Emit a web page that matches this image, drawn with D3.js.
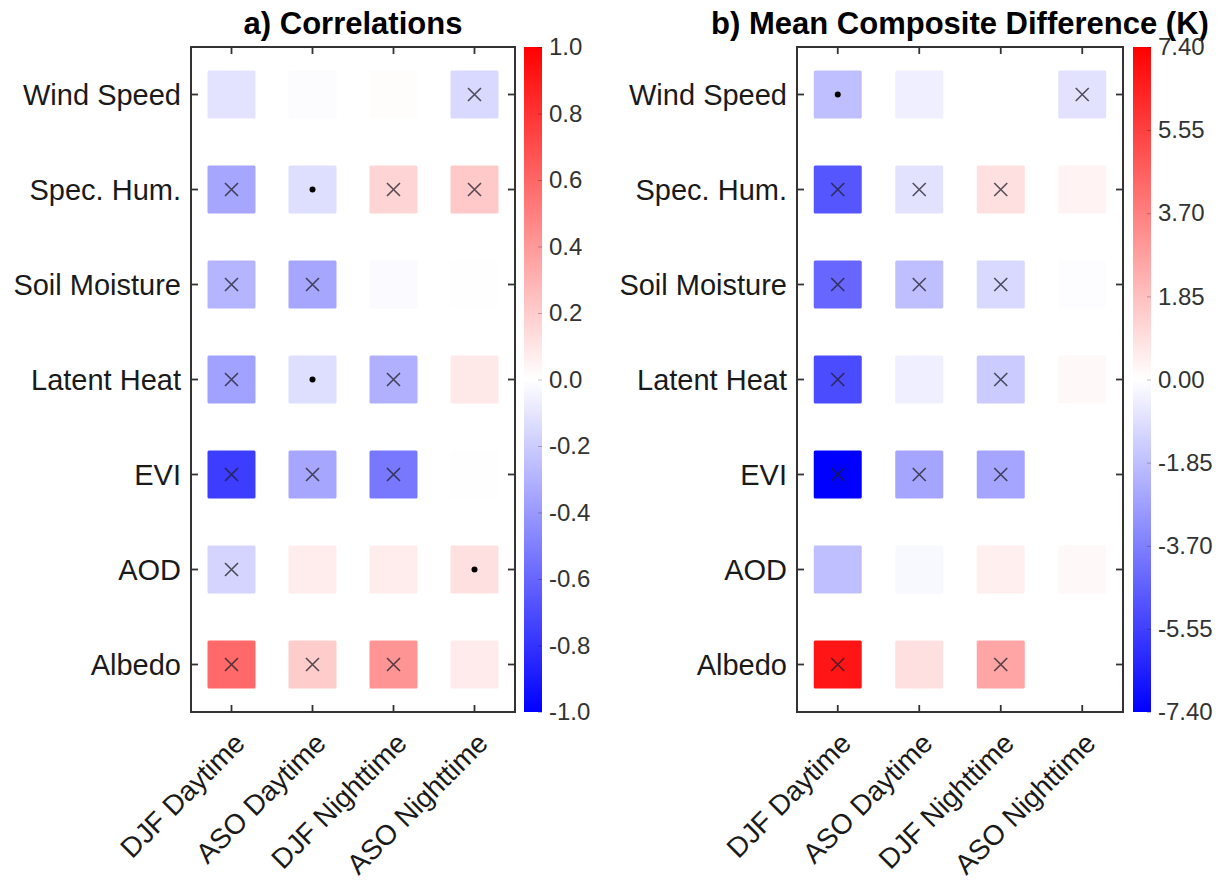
<!DOCTYPE html>
<html>
<head>
<meta charset="utf-8">
<script src="https://cdn.jsdelivr.net/npm/d3@7"></script>
<style>
body { margin:0; background:#fff; }
text { font-family:"Liberation Sans", Arial, Helvetica, sans-serif; fill:#1a1a1a; }
</style>
</head>
<body>
<svg width="1231" height="884"></svg>
<script>
var rows = ["Wind Speed","Spec. Hum.","Soil Moisture","Latent Heat","EVI","AOD","Albedo"];
var cols = ["DJF Daytime","ASO Daytime","DJF Nighttime","ASO Nighttime"];

// correlations, one row per variable, columns as in cols
var corrValues = [
	[-0.11, -0.01,  0.01, -0.15],
	[-0.35, -0.13,  0.17,  0.21],
	[-0.29, -0.35, -0.02, -0.005],
	[-0.37, -0.13, -0.31,  0.09],
	[-0.76, -0.35, -0.53,  0.005],
	[-0.17,  0.07,  0.07,  0.12],
	[ 0.59,  0.20,  0.42,  0.08]
];
// x = cross, d = dot, "" = nothing
var corrMarks = [
	["", "", "", "x"],
	["x","d","x","x"],
	["x","x","", ""],
	["x","d","x",""],
	["x","x","x",""],
	["x","", "", "d"],
	["x","x","x",""]
];

// mean composite difference (K)
var diffValues = [
	[-1.85, -0.45,  0.0,  -0.85],
	[-4.9,  -0.85,  0.9,   0.35],
	[-4.4,  -1.85, -1.1,  -0.05],
	[-5.2,  -0.45, -1.5,   0.2],
	[-7.4,  -2.6,  -2.6,   0.0],
	[-1.85, -0.2,   0.45,  0.2],
	[ 6.8,   0.9,   2.6,   0.0]
];
var diffMarks = [
	["d","", "", "x"],
	["x","x","x",""],
	["x","x","x",""],
	["x","", "x",""],
	["x","x","x",""],
	["", "", "", ""],
	["x","", "x",""]
];

var corrTicks = [1.0,0.8,0.6,0.4,0.2,0.0,-0.2,-0.4,-0.6,-0.8,-1.0];
var diffTicks = [7.40,5.55,3.70,1.85,0.00,-1.85,-3.70,-5.55,-7.40];

var svg = d3.select("svg");

var defs = svg.append("defs");
var grad = defs.append("linearGradient")
	.attr("id","bwr")
	.attr("x1",0).attr("y1",1).attr("x2",0).attr("y2",0);
grad.append("stop").attr("offset","0%").attr("stop-color","#0000ff");
grad.append("stop").attr("offset","50%").attr("stop-color","#ffffff");
grad.append("stop").attr("offset","100%").attr("stop-color","#ff0000");

function panel(opt){
	var w = opt.w, h = 665;
	var g = svg.append("g").attr("transform", translate(opt.x, 47));

	var x = d3.scaleBand().domain(cols).range([0, w]);
	var y = d3.scaleBand().domain(rows).range([0, h]);
	var color = d3.scaleLinear()
		.domain([-opt.max, 0, opt.max])
		.range(["#0000ff","#ffffff","#ff0000"]);

	var cells = [];
	rows.forEach(function(r, i){
		cols.forEach(function(c, j){
			cells.push({row:r, col:c, v:opt.values[i][j], m:opt.marks[i][j]});
		});
	});

	var s = 48;
	g.selectAll().data(cells)
		.enter().append("rect")
		.attr("x", function(d){ return x(d.col) + x.bandwidth()/2 - s/2 })
		.attr("y", function(d){ return y(d.row) + y.bandwidth()/2 - s/2 })
		.attr("width", s)
		.attr("height", s)
		.attr("rx", 1.5)
		.attr("fill", function(d){ return color(d.v) });

	g.selectAll().data(cells.filter(function(d){ return d.m == "x" }))
		.enter().append("path")
		.attr("stroke", "rgba(30,30,40,0.75)")
		.attr("stroke-width", 1.6)
		.attr("fill", "none")
		.attr("d", function(d){
			var cx = x(d.col) + x.bandwidth()/2, cy = y(d.row) + y.bandwidth()/2, k = 6.5;
			return "M"+(cx-k)+" "+(cy-k)+" L"+(cx+k)+" "+(cy+k)+" M"+(cx-k)+" "+(cy+k)+" L"+(cx+k)+" "+(cy-k);
		});

	g.selectAll().data(cells.filter(function(d){ return d.m == "d" }))
		.enter().append("circle")
		.attr("cx", function(d){ return x(d.col) + x.bandwidth()/2 })
		.attr("cy", function(d){ return y(d.row) + y.bandwidth()/2 })
		.attr("r", 3)
		.attr("fill", "#000");

	// inward ticks on all four sides
	var left = g.append("g")
		.call(d3.axisLeft(y).tickSize(-7).tickPadding(10).tickSizeOuter(0));
	left.selectAll("text").style("font-size","29px").attr("dy","0.36em");
	g.append("g").attr("transform", translate(w,0))
		.call(d3.axisRight(y).tickSize(-7).tickFormat("").tickSizeOuter(0));
	g.append("g")
		.call(d3.axisTop(x).tickSize(-7).tickFormat("").tickSizeOuter(0));
	var bottom = g.append("g").attr("transform", translate(0,h))
		.call(d3.axisBottom(x).tickSize(-7).tickSizeOuter(0));
	bottom.selectAll("text")
		.style("font-size","28px")
		.attr("text-anchor","end")
		.attr("dy", null)
		.attr("y", null)
		.attr("transform","translate(15,33) rotate(-45)");
	g.selectAll(".domain").remove();
	g.selectAll(".tick line").attr("stroke","#333").attr("stroke-width",1.8);

	g.append("rect")
		.attr("width", w).attr("height", h)
		.attr("fill","none")
		.attr("stroke","#333")
		.attr("stroke-width",2);

	svg.append("text")
		.attr("x", opt.x + w/2).attr("y", 34)
		.attr("text-anchor","middle")
		.style("font-size","31px")
		.style("font-weight","bold")
		.style("fill","#000")
		.text(opt.title);

	// colorbar
	var cb = svg.append("g").attr("transform", translate(opt.cbX, 47));
	cb.append("rect")
		.attr("width", 18).attr("height", h)
		.attr("fill","url(#bwr)");
	var cy = d3.scaleLinear().domain([-opt.max, opt.max]).range([h, 0]);
	var fmt = d3.format(opt.fmt);
	var cax = cb.append("g").attr("transform", translate(18,0))
		.call(d3.axisRight(cy).tickValues(opt.ticks)
			.tickFormat(function(d){ return fmt(d).replace("\u2212","-") })
			.tickSize(-4).tickPadding(7).tickSizeOuter(0));
	cax.select(".domain").remove();
	cax.selectAll(".tick line").attr("stroke","rgba(0,0,0,0.25)");
	cax.selectAll("text").style("font-size","24px").style("fill","#333");
}

panel({x:191, w:324, cbX:524, max:1.0, values:corrValues, marks:corrMarks,
	ticks:corrTicks, fmt:".1f", title:"a) Correlations"});
panel({x:797, w:326, cbX:1133, max:7.4, values:diffValues, marks:diffMarks,
	ticks:diffTicks, fmt:".2f", title:"b) Mean Composite Difference (K)"});

function translate(x,y){
	return "translate("+x+","+y+")";
}
</script>
</body>
</html>
